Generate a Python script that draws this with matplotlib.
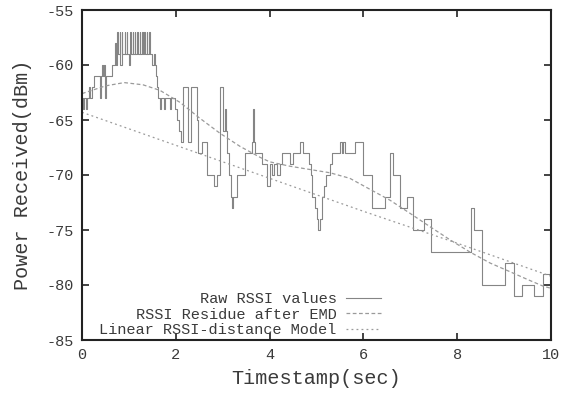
import matplotlib
import matplotlib.pyplot as plt

matplotlib.use("Agg")

plt.rcParams["font.family"] = ["Liberation Mono", "DejaVu Sans Mono"]
plt.rcParams["axes.unicode_minus"] = False

# ---------------------------------------------------------------------------
# Data
# ---------------------------------------------------------------------------

raw_t = [
    0.00, 0.03, 0.05, 0.08, 0.10, 0.15, 0.18, 0.21, 0.26, 0.38, 0.40, 0.42,
    0.45, 0.47, 0.49, 0.51, 0.64, 0.66, 0.70, 0.72, 0.75, 0.77, 0.81, 0.82,
    0.85, 0.86, 0.91, 0.92, 0.96, 0.97, 1.01, 1.03, 1.04, 1.08, 1.09, 1.13,
    1.14, 1.18, 1.19, 1.23, 1.24, 1.28, 1.29, 1.33, 1.34, 1.38, 1.39, 1.43,
    1.44, 1.49, 1.53, 1.56, 1.58, 1.60, 1.62,
    1.66, 1.68, 1.75, 1.77, 1.88, 1.90, 1.98, 2.02, 2.07, 2.11, 2.15, 2.26,
    2.32, 2.45, 2.47, 2.56, 2.67, 2.81, 2.88, 2.94, 2.95, 3.00, 3.05, 3.07,
    3.09, 3.14, 3.18, 3.20, 3.23, 3.30, 3.48, 3.62, 3.64, 3.66, 3.69, 3.84,
    3.94, 4.00, 4.05, 4.09, 4.16, 4.22, 4.26, 4.43, 4.50, 4.65, 4.71, 4.84,
    4.88, 4.91, 4.96, 5.01, 5.04, 5.07, 5.11, 5.16, 5.20, 5.29, 5.33, 5.50,
    5.54, 5.56, 5.61, 5.82, 5.99, 6.18, 6.46, 6.57, 6.63, 6.78, 6.93, 7.06,
    7.29, 7.44, 8.29, 8.36, 8.53, 9.02, 9.21, 9.38, 9.64, 9.83, 10.0,
]
raw_v = [
    -63, -64, -63, -64, -63, -62, -63, -62, -61, -63, -61, -60,
    -61, -60, -63, -61, -60, -60, -58, -60, -57, -59, -57, -60,
    -57, -59, -57, -59, -57, -59, -60, -57, -59, -57, -59, -57,
    -59, -57, -59, -57, -59, -57, -59, -57, -59, -57, -59, -57,
    -59, -60, -59, -60, -61, -62, -63,
    -64, -63, -64, -63, -64, -63, -64, -65, -66, -67, -62, -67,
    -62, -65, -68, -67, -70, -71, -70, -66, -62, -66, -64, -66,
    -68, -70, -72, -73, -72, -70, -68, -67, -64, -67, -68, -69,
    -71, -69, -70, -69, -70, -69, -68, -69, -68, -67, -68, -69,
    -70, -72, -73, -74, -75, -74, -72, -71, -70, -69, -68, -67,
    -68, -67, -68, -67, -70, -73, -72, -68, -70, -73, -72, -75,
    -74, -77, -73, -75, -80, -78, -81, -80, -81, -79, -79,
]

emd_t = [0.0, 0.5, 0.9, 1.3, 1.66, 2.09, 2.5, 2.94, 3.37, 3.8, 4.0, 4.43,
         4.86, 5.29, 5.71, 6.14, 6.57, 7.0, 7.42, 7.85, 8.27, 8.70, 9.13,
         9.5, 9.83, 10.0]
emd_v = [-62.6, -61.9, -61.6, -61.8, -62.3, -63.4, -64.8, -66.2, -67.4,
         -68.4, -68.8, -69.2, -69.5, -69.8, -70.3, -71.3, -72.3, -73.5,
         -74.7, -75.9, -77.0, -78.0, -78.8, -79.5, -80.1, -80.3]

lin_t = [0.0, 2.0, 4.0, 6.0, 8.0, 10.0]
lin_v = [-64.3, -67.3, -70.3, -73.3, -76.2, -79.2]

x_ticks = [0, 2, 4, 6, 8, 10]
y_ticks = [-85, -80, -75, -70, -65, -60, -55]

TEXT = "#3a3a3a"

fig = plt.figure(figsize=(5.74, 3.93), dpi=100)
ax = fig.add_axes([82 / 574, 53 / 393, 469 / 574, 330 / 393])

ax.plot(raw_t, raw_v, drawstyle="steps-post", color="#858585", lw=0.8,
        label="Raw RSSI values")
ax.plot(emd_t, emd_v, color="#9a9a9a", lw=0.9, linestyle=(0, (3, 2)),
        label="RSSI Residue after EMD")
ax.plot(lin_t, lin_v, color="#9a9a9a", lw=0.9, linestyle=(0, (1.5, 2.5)),
        label="Linear RSSI-distance Model")

ax.set_xlim(0, 10)
ax.set_ylim(-85, -55)
ax.set_xticks(x_ticks)
ax.set_yticks(y_ticks)
ax.tick_params(direction="in", length=5, width=1.2, top=True, right=True,
               labelsize=11, colors="#222222", labelcolor=TEXT, pad=6)
for s in ax.spines.values():
    s.set_linewidth(1.5)
    s.set_color("#222222")

ax.set_xlabel("Timestamp(sec)", fontsize=14.5, color=TEXT, labelpad=5)
ax.set_ylabel("Power Received(dBm)", fontsize=14.5, color=TEXT, labelpad=10)

leg = ax.legend(loc="lower right", bbox_to_anchor=(0.65, -0.01), frameon=False,
                markerfirst=False, fontsize=11, handlelength=2.3,
                labelspacing=0.1, borderaxespad=0.0, handletextpad=0.6)
for t in leg.get_texts():
    t.set_color(TEXT)

fig.savefig("out.png", dpi=100)
plt.close(fig)
